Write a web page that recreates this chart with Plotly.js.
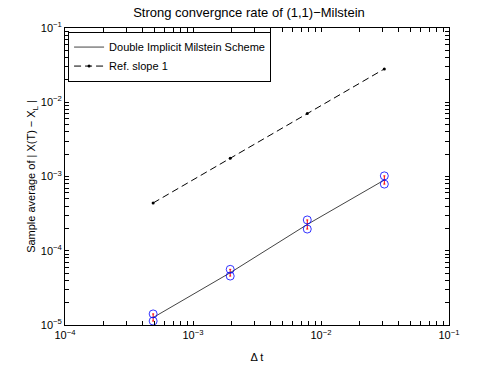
<!DOCTYPE html>
<html>
<head>
<meta charset="utf-8">
<script src="https://cdn.plot.ly/plotly-3.0.1.min.js"></script>
<style>
  html, body { margin: 0; padding: 0; background: #ffffff; }
  #grafico { width: 498px; height: 375px; }
</style>
</head>
<body>
<div id="grafico"></div>
<script>
// Passos de tempo (Delta t = 2^-11, 2^-9, 2^-7, 2^-5)
const passos = [0.00048828125, 0.001953125, 0.0078125, 0.03125];
// Média amostral do erro e limites do intervalo (círculos azuis)
const erroMedio = [1.26e-5, 5.06e-5, 2.26e-4, 8.97e-4];
const erroSup = [1.41e-5, 5.62e-5, 2.60e-4, 1.02e-3];
const erroInf = [1.13e-5, 4.56e-5, 1.96e-4, 7.9e-4];
// Reta de referência com inclinação 1
const refSlope = [4.4e-4, 1.76e-3, 7.03e-3, 2.81e-2];

// Décadas dos eixos (expoentes)
const decadasX = [-4, -3, -2, -1];
const decadasY = [-5, -4, -3, -2, -1];

// marcas em 1..9 x 10^p, rótulo só nas potências de 10
function marcas(decadas) {
    const vals = [], txt = [];
    decadas.forEach((p, i) => {
        const ultimo = i === decadas.length - 1;
        for (let d = 1; d <= (ultimo ? 1 : 9); d++) {
            vals.push(d * Math.pow(10, p));
            txt.push(d === 1 ? '10<sup>' + (p < 0 ? '\u2212' + (-p) : p) + '</sup>' : '');
        }
    });
    return { tickvals: vals, ticktext: txt };
}

const fonte = { family: 'Liberation Sans, Arial, sans-serif', size: 12, color: '#000' };

const dados = [
    {
        x: passos,
        y: erroMedio,
        type: 'scatter',
        mode: 'lines',
        name: 'Double Implicit Milstein Scheme',
        line: { color: '#444444', width: 1 },
        error_y: {
            type: 'data',
            symmetric: false,
            array: erroSup.map((v, i) => v - erroMedio[i]),
            arrayminus: erroMedio.map((v, i) => v - erroInf[i]),
            color: '#ff0000',
            thickness: 1,
            width: 1
        }
    },
    {
        x: passos,
        y: refSlope,
        type: 'scatter',
        mode: 'lines+markers',
        name: 'Ref. slope 1',
        line: { color: '#000', width: 1, dash: '7px,4px' },
        marker: { color: '#000', size: 3 }
    },
    {
        x: passos.concat(passos),
        y: erroSup.concat(erroInf),
        type: 'scatter',
        mode: 'markers',
        showlegend: false,
        marker: { symbol: 'circle-open', size: 8, color: '#0000ff', line: { width: 0.8, color: '#0000ff' } }
    }
];

const eixoBase = {
    type: 'log',
    showline: true,
    mirror: 'ticks',
    linecolor: '#000',
    linewidth: 1,
    ticks: 'inside',
    ticklen: 4,
    tickcolor: '#000',
    showgrid: false,
    zeroline: false,
    tickmode: 'array',
    tickfont: { family: fonte.family, size: 11, color: '#000' }
};

const layout = {
    width: 498,
    height: 375,
    margin: { l: 65, r: 49, t: 28, b: 50 },
    paper_bgcolor: '#ffffff',
    plot_bgcolor: '#ffffff',
    font: fonte,
    title: {
        text: 'Strong convergnce rate of (1,1)\u2212Milstein',
        font: { family: fonte.family, size: 13, color: '#000' },
        x: 0.5,
        xanchor: 'center',
        y: 0.968,
        yanchor: 'middle'
    },
    xaxis: Object.assign({}, eixoBase, marcas(decadasX), {
        range: [-4, -1],
        title: { text: '\u0394 t', font: { family: fonte.family, size: 11, color: '#000' }, standoff: 13 }
    }),
    yaxis: Object.assign({}, eixoBase, marcas(decadasY), {
        range: [-5, -1],
        title: { text: 'Sample average of | X(T) \u2212 X<sub>L</sub> |', font: { family: fonte.family, size: 11, color: '#000' }, standoff: 2 }
    }),
    legend: {
        x: 0.008,
        y: 0.988,
        xanchor: 'left',
        yanchor: 'top',
        bgcolor: '#ffffff',
        bordercolor: '#000',
        borderwidth: 1,
        font: { family: fonte.family, size: 11, color: '#000' },
        tracegroupgap: 0,
        itemwidth: 30
    },
    showlegend: true
};

Plotly.newPlot('grafico', dados, layout, { displayModeBar: false, staticPlot: true });
</script>
</body>
</html>
